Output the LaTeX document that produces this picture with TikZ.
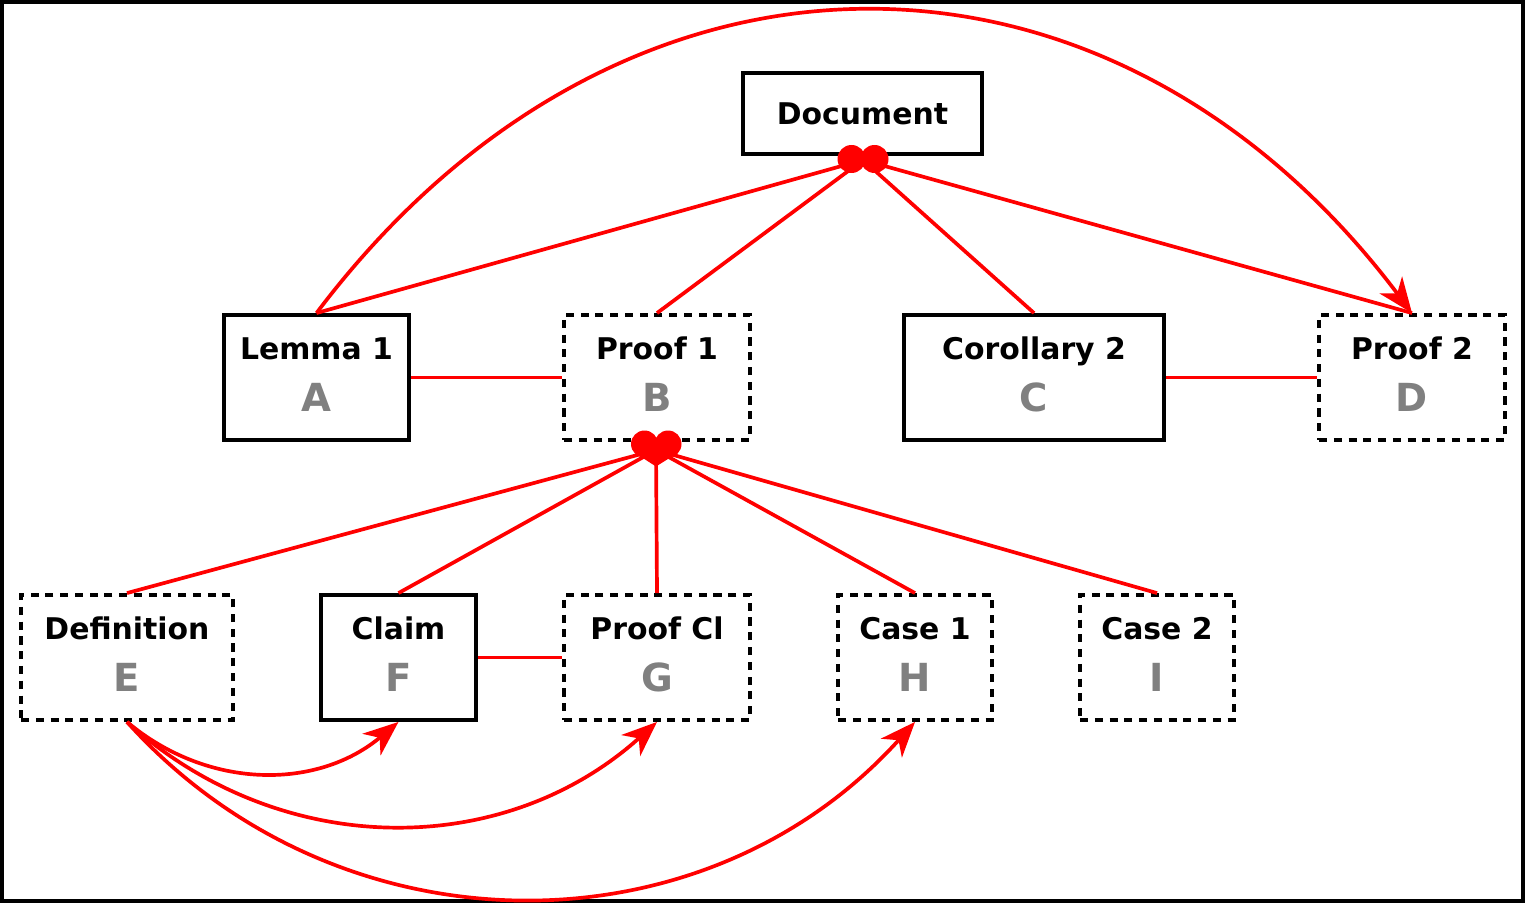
\documentclass[tikz,border=0pt]{standalone}
\usepackage{fontspec}
\setmainfont{DejaVu Sans}
\usetikzlibrary{arrows.meta}

\definecolor{lettergray}{RGB}{128,128,128}
\newcommand{\boxlabel}[2]{#1\\{\fontsize{11pt}{14.8pt}\selectfont\color{lettergray}#2}}

\begin{document}
\begin{tikzpicture}[
  solidbox/.style={draw, line width=1.1pt, rectangle, fill=white, minimum height=1.25cm, inner sep=0pt, text depth=1.7pt, align=center, font=\fontsize{8.5pt}{14.8pt}\selectfont\bfseries},
  dashbox/.style={solidbox, dash pattern=on 2.3pt off 1.9pt},
  link/.style={red, line width=1.05pt},
  ref/.style={link, -{Stealth[length=10pt,width=8pt,inset=3pt]}},
]
\useasboundingbox (0,0) rectangle (15.25,9.03);
\draw[line width=1pt] (0.02,0.02) rectangle (15.23,9.01);

\node[solidbox, minimum width=2.39cm, minimum height=0.81cm, text depth=0pt] (doc) at (8.625,7.895) {Document};

\node[solidbox, minimum width=1.85cm] (lemma) at (3.165,5.255) {\boxlabel{Lemma 1}{A}};
\node[dashbox, minimum width=1.86cm] (proof1) at (6.57,5.255) {\boxlabel{Proof 1}{B}};
\node[solidbox, minimum width=2.60cm] (cor) at (10.34,5.255) {\boxlabel{Corollary 2}{C}};
\node[dashbox, minimum width=1.86cm] (proof2) at (14.12,5.255) {\boxlabel{Proof 2}{D}};

\node[dashbox, minimum width=2.12cm] (def) at (1.27,2.455) {\boxlabel{Definition}{E}};
\node[solidbox, minimum width=1.55cm] (claim) at (3.985,2.455) {\boxlabel{Claim}{F}};
\node[dashbox, minimum width=1.86cm] (proofcl) at (6.57,2.455) {\boxlabel{Proof Cl}{G}};
\node[dashbox, minimum width=1.54cm] (case1) at (9.15,2.455) {\boxlabel{Case 1}{H}};
\node[dashbox, minimum width=1.54cm] (case2) at (11.57,2.455) {\boxlabel{Case 2}{I}};

\coordinate (djoin) at (8.63,7.43);
\coordinate (bjoin) at (6.56,4.53);

\draw[link] (djoin) -- (lemma.north);
\draw[link] (djoin) -- (proof1.north);
\draw[link] (djoin) -- (cor.north);
\draw[link] (djoin) -- (proof2.north);

\draw[link] (lemma.east) -- (proof1.west);
\draw[link] (cor.east) -- (proof2.west);
\draw[link] (claim.east) -- (proofcl.west);

\foreach \n in {def,claim,proofcl,case1,case2}
  \draw[link] (bjoin) -- (\n.north);

\draw[ref] (lemma.north) to[out=53,in=127,looseness=1.18] (proof2.north);

\draw[ref] (def.south) to[out=-40,in=-140] (claim.south);
\draw[ref] (def.south) to[out=-42,in=-138] (proofcl.south);
\draw[ref] (def.south) to[out=-48,in=-132,looseness=1.03] (case1.south);

\fill[red, shift={(djoin)}] (-0.115,0.01) circle (0.14) (0.115,0.01) circle (0.14);
\fill[red, shift={(bjoin)}] (-0.115,0.06) circle (0.135) (0.12,0.06) circle (0.135)
  (-0.21,-0.03) -- (0,-0.165) -- (0.215,-0.03) -- cycle;

\end{tikzpicture}
\end{document}
